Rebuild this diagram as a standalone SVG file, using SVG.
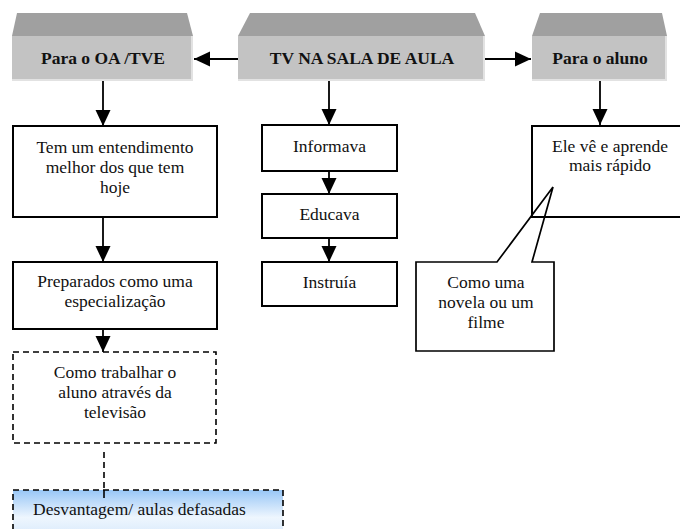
<svg xmlns="http://www.w3.org/2000/svg" width="680" height="529" viewBox="0 0 680 529" font-family="'Liberation Serif', 'DejaVu Serif', serif">
<defs>
<marker id="ah" markerUnits="userSpaceOnUse" markerWidth="16" markerHeight="16" viewBox="0 0 16 15" refX="16" refY="7.5" orient="auto">
<path d="M0,0 L16,7.5 L0,15 Z" fill="#000"/>
</marker>
<linearGradient id="blue" x1="0" y1="0" x2="0" y2="1">
<stop offset="0" stop-color="#98c6f6"/>
<stop offset="0.55" stop-color="#eef6fe"/>
<stop offset="1" stop-color="#d4e7fb"/>
</linearGradient>
</defs>
<style>
text{font-family:'Liberation Serif','DejaVu Serif',serif;font-size:17.5px;fill:#111;text-anchor:middle}
.b{font-weight:bold}
.top{fill:#a0a0a0}
.front{fill:#c3c3c3}
.edge{stroke:#e2e2e2;stroke-width:2;fill:none}
.box{fill:none;stroke:#000;stroke-width:2}
.dbox{fill:none;stroke:#000;stroke-width:1.6;stroke-dasharray:6 4}
.con{stroke:#000;stroke-width:1.8;fill:none}
</style>
<rect width="680" height="529" fill="#fff"/>

<g id="connectors">
<line class="con" x1="238" y1="59" x2="194" y2="59" marker-end="url(#ah)"/>
<line class="con" x1="485" y1="59" x2="531" y2="59" marker-end="url(#ah)"/>
<line class="con" x1="103" y1="81" x2="103" y2="126" marker-end="url(#ah)"/>
<line class="con" x1="103" y1="217" x2="103" y2="262" marker-end="url(#ah)"/>
<line class="con" x1="103" y1="329" x2="103" y2="352" marker-end="url(#ah)"/>
<line class="con" x1="329" y1="81" x2="329" y2="125" marker-end="url(#ah)"/>
<line class="con" x1="329" y1="171" x2="329" y2="194" marker-end="url(#ah)"/>
<line class="con" x1="329" y1="238" x2="329" y2="262" marker-end="url(#ah)"/>
<line class="con" x1="600" y1="81" x2="600" y2="125" marker-end="url(#ah)"/>
<line x1="104" y1="452" x2="104" y2="498" stroke="#000" stroke-width="1.6" stroke-dasharray="6 4"/>
</g>

<g id="n-oa">
<polygon class="top" points="17,13 187,13 193,36 12,36"/>
<rect class="front" x="12" y="36" width="181" height="45"/>
<polyline class="edge" points="192,36 192,80 12,80"/>
<text class="b" x="103" y="64">Para o OA /TVE</text>
</g>

<g id="n-tv">
<polygon class="top" points="250,13 475,13 485,36 238,36"/>
<rect class="front" x="238" y="36" width="247" height="45"/>
<polyline class="edge" points="484,36 484,80 238,80"/>
<text class="b" x="362" y="64">TV NA SALA DE AULA</text>
</g>

<g id="n-aluno">
<polygon class="top" points="540,13 662,13 667,36 532,36"/>
<rect class="front" x="532" y="36" width="135" height="45"/>
<polyline class="edge" points="666,36 666,80 532,80"/>
<text class="b" x="600" y="64">Para o aluno</text>
</g>

<g id="n-tem">
<rect class="box" x="13" y="126" width="204" height="91"/>
<text x="115" y="153">Tem um entendimento</text>
<text x="115" y="173">melhor dos que tem</text>
<text x="115" y="193">hoje</text>
</g>

<g id="n-prep">
<rect class="box" x="13" y="262" width="204" height="67"/>
<text x="115" y="287">Preparados como uma</text>
<text x="115" y="307">especialização</text>
</g>

<g id="n-como">
<rect class="dbox" x="13" y="352" width="203" height="91"/>
<text x="115" y="378">Como trabalhar o</text>
<text x="115" y="398">aluno através da</text>
<text x="115" y="418">televisão</text>
</g>

<g id="n-desv">
<rect x="13" y="490" width="270" height="50" fill="url(#blue)" stroke="#000" stroke-width="1.6" stroke-dasharray="6 4"/>
<line x1="104" y1="490" x2="104" y2="498" stroke="#000" stroke-width="1.6"/>
<text x="33" y="515" style="text-anchor:start">Desvantagem/ aulas defasadas</text>
</g>

<g id="n-inf">
<rect class="box" x="262" y="125" width="135" height="46"/>
<text x="329.5" y="152">Informava</text>
</g>

<g id="n-edu">
<rect class="box" x="262" y="194" width="135" height="44"/>
<text x="329.5" y="220">Educava</text>
</g>

<g id="n-inst">
<rect class="box" x="262" y="262" width="135" height="44"/>
<text x="329.5" y="288">Instruía</text>
</g>

<g id="n-ele">
<rect class="box" x="532" y="126" width="160" height="91"/>
<text x="610" y="152">Ele vê e aprende</text>
<text x="610" y="171">mais rápido</text>
</g>

<g id="n-novela">
<path d="M416,262 L497,262 L553,187 L532,262 L554,262 L554,351 L416,351 Z" fill="none" stroke="#000" stroke-width="1.7"/>
<text x="486" y="288">Como uma</text>
<text x="486" y="308">novela ou um</text>
<text x="486" y="328">filme</text>
</g>
</svg>
